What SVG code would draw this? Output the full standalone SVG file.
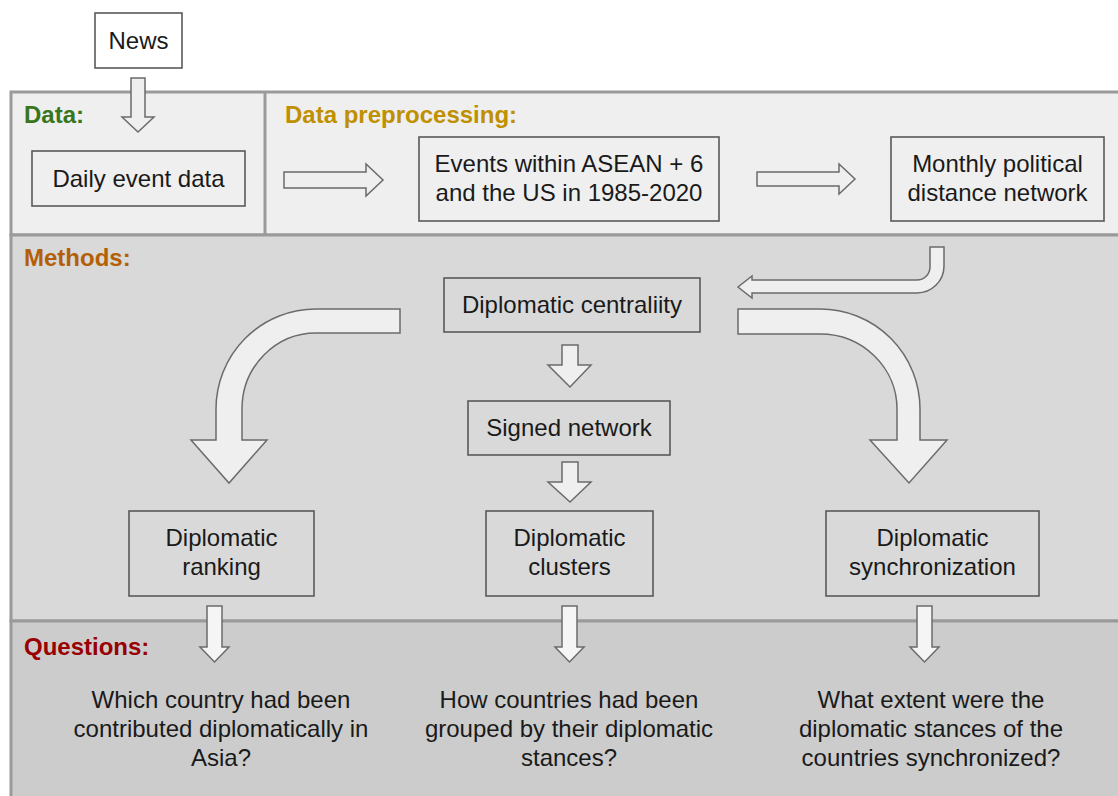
<svg xmlns="http://www.w3.org/2000/svg" width="1118" height="796" viewBox="0 0 1118 796">
<style>
text{font-family:"Liberation Sans",Arial,sans-serif;font-size:24px;fill:#1a1a1a}
.c{text-anchor:middle}
.lbl{font-weight:bold}
.box{stroke:#595959;stroke-width:1.6}
.arr{fill:#efefef;stroke:#6b6b6b;stroke-width:1.5;stroke-linejoin:miter}
.sec{stroke:#9a9a9a;stroke-width:3}
</style>
<rect width="1118" height="796" fill="#ffffff"/>
<g id="sections">
<rect class="sec" x="11" y="92" width="1120" height="143" fill="#efefef"/>
<line class="sec" x1="265" y1="92" x2="265" y2="235"/>
<rect class="sec" x="11" y="235" width="1120" height="386" fill="#d9d9d9"/>
<rect class="sec" x="11" y="621" width="1120" height="185" fill="#cccccc"/>
<text class="lbl" x="24" y="123" style="fill:#38761d">Data:</text>
<text class="lbl" x="285" y="123" style="fill:#bf9000">Data preprocessing:</text>
<text class="lbl" x="24" y="266" style="fill:#b45f06">Methods:</text>
<text class="lbl" x="24" y="655" style="fill:#990000">Questions:</text>
</g>
<g id="connectors">
<polygon class="arr" points="131,78 145,78 145,117 154,117 138,132 122,117 131,117"/>
<polygon class="arr" points="284,172 366,172 366,164 383,180 366,196 366,188 284,188"/>
<polygon class="arr" points="757,172 839,172 839,164 855,179 839,194 839,186 757,186"/>
<path class="arr" d="M930,247 L944,247 L944,266 A27,27 0 0 1 917,293 L752,293 L752,298 L738,287 L752,276 L752,280 L917,280 A13,13 0 0 0 930,267 Z"/>
<path class="arr" d="M400,309 L316,309 A100,100 0 0 0 216,409 L216,440 L191,440 L229,483 L267,440 L242,440 L242,409 A74,76 0 0 1 316,333 L400,333 Z"/>
<path class="arr" d="M738,309 L820,309 A100,100 0 0 1 920,409 L920,440 L947,440 L909,483 L870,440 L897,440 L897,409 A77,75 0 0 0 820,334 L738,334 Z"/>
<polygon class="arr" points="562,345 578,345 578,365 591,365 570,387 548,365 562,365"/>
<polygon class="arr" points="562,462 578,462 578,482 591,482 570,502 548,482 562,482"/>
<polygon class="arr" points="207,606 222,606 222,647 229,647 214.5,662 200,647 207,647" style="fill:#f5f5f5"/>
<polygon class="arr" points="562,606 577,606 577,647 584,647 569.5,662 555,647 562,647" style="fill:#f5f5f5"/>
<polygon class="arr" points="917,606 932,606 932,647 939,647 924.5,662 910,647 917,647" style="fill:#f5f5f5"/>
</g>
<g id="news">
<rect class="box" x="95" y="13" width="87" height="55" fill="#ffffff"/>
<text class="c" x="138.5" y="49">News</text>
</g>
<g id="daily">
<rect class="box" x="32" y="151" width="213" height="55" fill="#efefef"/>
<text class="c" x="138.5" y="187">Daily event data</text>
</g>
<g id="events">
<rect class="box" x="419" y="137" width="300" height="84" fill="#efefef"/>
<text class="c" x="569" y="172">Events within ASEAN + 6</text>
<text class="c" x="569" y="201">and the US in 1985-2020</text>
</g>
<g id="monthly">
<rect class="box" x="891" y="137" width="213" height="84" fill="#efefef"/>
<text class="c" x="997.5" y="172">Monthly political</text>
<text class="c" x="997.5" y="201">distance network</text>
</g>
<g id="centrality">
<rect class="box" x="444" y="278" width="256" height="54" fill="#d9d9d9"/>
<text class="c" x="572" y="313">Diplomatic centraliity</text>
</g>
<g id="signed">
<rect class="box" x="468" y="401" width="202" height="54" fill="#d9d9d9"/>
<text class="c" x="569" y="436">Signed network</text>
</g>
<g id="ranking">
<rect class="box" x="129" y="511" width="185" height="85" fill="#d9d9d9"/>
<text class="c" x="221.5" y="546">Diplomatic</text>
<text class="c" x="221.5" y="575">ranking</text>
</g>
<g id="clusters">
<rect class="box" x="486" y="511" width="167" height="85" fill="#d9d9d9"/>
<text class="c" x="569.5" y="546">Diplomatic</text>
<text class="c" x="569.5" y="575">clusters</text>
</g>
<g id="synchronization">
<rect class="box" x="826" y="511" width="213" height="85" fill="#d9d9d9"/>
<text class="c" x="932.5" y="546">Diplomatic</text>
<text class="c" x="932.5" y="575">synchronization</text>
</g>
<g id="q1">
<text class="c" x="221" y="708">Which country had been</text>
<text class="c" x="221" y="737">contributed diplomatically in</text>
<text class="c" x="221" y="766">Asia?</text>
</g>
<g id="q2">
<text class="c" x="569" y="708">How countries had been</text>
<text class="c" x="569" y="737">grouped by their diplomatic</text>
<text class="c" x="569" y="766">stances?</text>
</g>
<g id="q3">
<text class="c" x="931" y="708">What extent were the</text>
<text class="c" x="931" y="737">diplomatic stances of the</text>
<text class="c" x="931" y="766">countries synchronized?</text>
</g>
</svg>
